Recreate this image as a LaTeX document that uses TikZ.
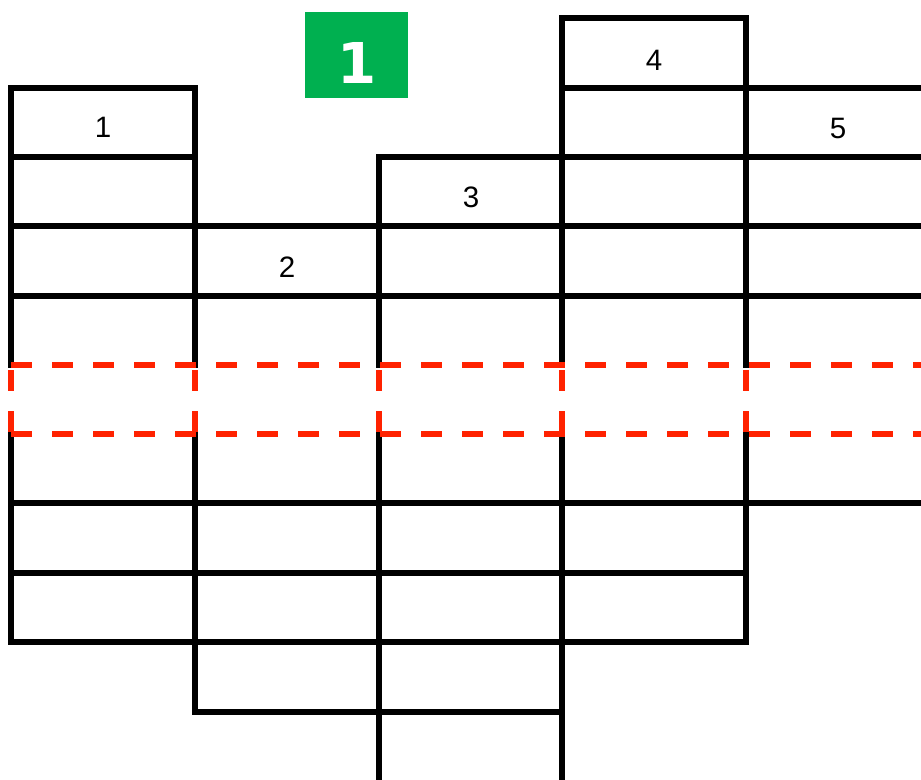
\documentclass[tikz,border=0pt]{standalone}
\usepackage{fontspec}
\setmainfont{Liberation Sans}
\newfontfamily\badgefont{DejaVu Sans}
\definecolor{badgegreen}{HTML}{00B050}
\definecolor{cutred}{HTML}{FF2200}

\begin{document}
\begin{tikzpicture}[x=0.025cm, y=-0.025cm,
    grid/.style={line width=3.6pt, line cap=rect},
    cut/.style={draw=cutred, line width=3.6pt, dash pattern=on 0.5125cm off 0.5125cm},
    every node/.style={font=\fontsize{21}{25}\selectfont}]
  \useasboundingbox (0,0) rectangle (921,779);
  \clip (0,0) rectangle (921,779);
  % columns: left/right/top/bottom/row lines
  \foreach \l/\r/\t/\b/\rows in {11/195/88/642/{88,157,226,296,503,573,642},
      195/379/226/712/{226,296,503,573,642,712},
      379/562/157/781/{157,226,296,503,573,642,712},
      562/746/18/642/{18,88,157,226,296,503,573,642},
      746/930/88/503/{88,157,226,296,503}} {
    \draw[grid] (\l,\t) -- (\l,365) (\l,434) -- (\l,\b);
    \draw[grid] (\r,\t) -- (\r,365) (\r,434) -- (\r,\b);
    \foreach \y in \rows
      \draw[grid] (\l,\y) -- (\r,\y);
  }
  % cut row
  \draw[cut] (11,365) -- (930,365);
  \draw[cut] (11,434) -- (930,434);
  \foreach \x in {11,195,379,562,746}
    \draw[cut] (\x,370) -- (\x,432);
  % labels
  \foreach \n/\x/\y in {1/103/127, 2/287/267, 3/471/197, 4/654/60, 5/838/128}
    \node (label\n) at (\x,\y) {\n};
  \fill[badgegreen] (305,12) rectangle (408,98);
  \node[text=white, font=\badgefont\bfseries\fontsize{40}{44}\selectfont] (badge) at (357,63) {1};
\end{tikzpicture}
\end{document}
